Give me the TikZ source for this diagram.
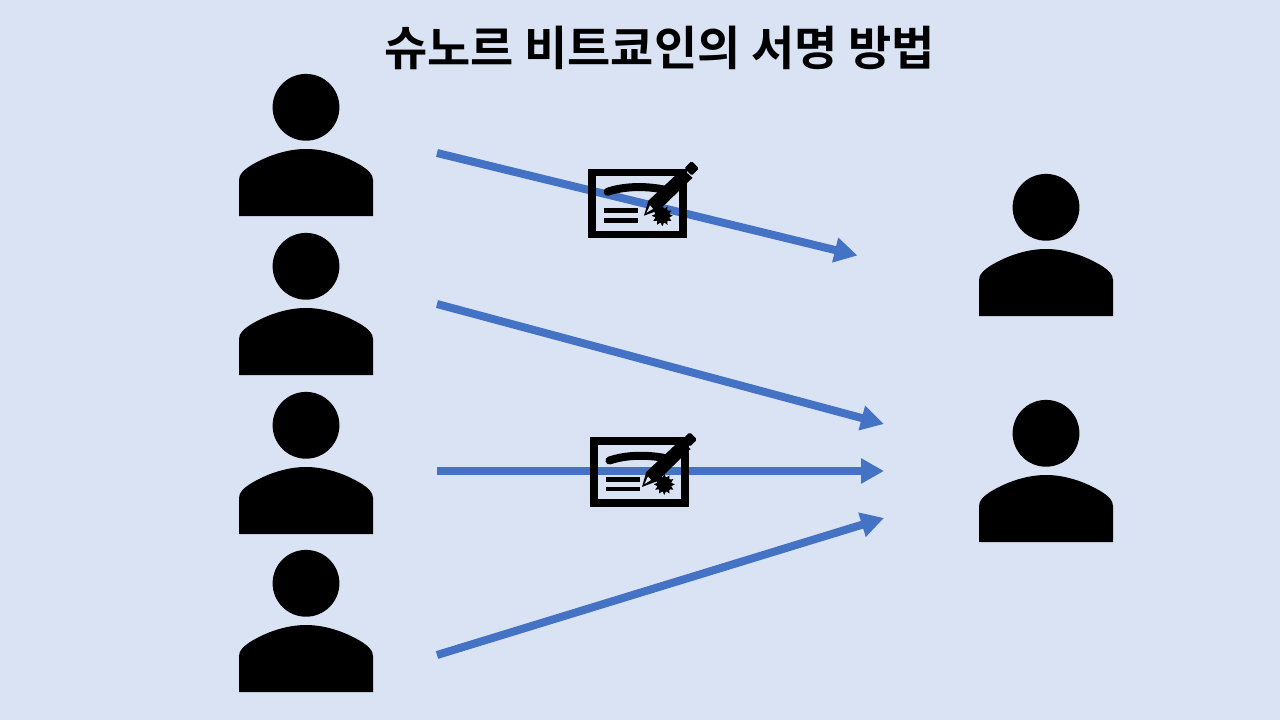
\documentclass[tikz,border=0pt]{standalone}
\usepackage{fontspec}
\usetikzlibrary{arrows.meta}
\newfontfamily\cjk{Noto Sans CJK KR}[BoldFont={Noto Sans CJK KR Bold}]
\definecolor{slide}{RGB}{218, 227, 243}
\definecolor{arrowblue}{RGB}{68, 114, 196}

\tikzset{
  flow/.style = {arrowblue, line width=8pt, -{Triangle[length=23pt,width=24pt]}},
  penpos/.style = {},
  person/.pic = {
    \fill (0,-37.7) circle (33.4pt);
    \fill (-67,71) -- (-67,35) .. controls (-67,29) and (-62,25) .. (-56,21)
      .. controls (-38,10) and (-18,4) .. (0,4)
      .. controls (18,4) and (38,10) .. (56,21)
      .. controls (62,25) and (67,29) .. (67,35) -- (67,71) -- cycle;
  },
  signature/.pic = {
    % frame
    \draw[line width=7.5pt] (-45.5,-31) rectangle (45.5,31);
    % stroke of the signature
    \draw[line width=8pt, line cap=round] (-30,-11.5) .. controls (-14,-17) and (8,-18) .. (30,-13);
    \draw[line width=5pt] (-34,7.5) -- (0,7.5);
    \draw[line width=4.5pt] (-34,17) -- (0,17);
    % seal
    \foreach \a in {0,30,...,330}{
      \fill (24.8,12.4) +(\a:10.5) -- +(\a+15:7) -- +(\a-15:7) -- cycle;
    }
    \fill (24.8,12.4) circle (7.5pt);
    % pen
    \begin{scope}[penpos]
      \fill (6.5,12.4) -- (10.8,-2.6) -- (45,-34.5) -- (55,-25.5) -- (21.8,6.7) -- cycle;
      \fill[slide] (9,9.5) -- (12.5,2) -- (15.5,5.5) -- cycle;
      \fill[rounded corners=1.5pt] (46.8,-35) -- (54.2,-42.3) -- (61.5,-35) -- (54.2,-27.7) -- cycle;
    \end{scope}
  },
}

\begin{document}
\begin{tikzpicture}[x=1pt,y=-1pt]
  \fill[slide] (0,0) rectangle (1280,720);
  \useasboundingbox (0,0) rectangle (1280,720);

  \node[font=\cjk\bfseries\fontsize{47}{56}\selectfont, inner sep=0pt] (title) at (659.5,48) {슈노르 비트쿄인의 서명 방법};

  % senders
  \foreach \y in {145, 304, 463, 621}{
    \pic at (306,\y) {person};
  }
  % receivers
  \foreach \y in {245, 471}{
    \pic at (1046,\y) {person};
  }

  \coordinate (from1) at (437,153);
  \coordinate (from2) at (437,304);
  \coordinate (from3) at (437,471);
  \coordinate (from4) at (437,655);
  \coordinate (to1) at (857.5,255.5);
  \coordinate (to2) at (884,424);
  \coordinate (to3) at (884,471);
  \coordinate (to4) at (884,518);

  \foreach \i in {1,...,4}{
    \draw[flow] (from\i) -- (to\i);
  }

  \pic at (637.5,203.3) {signature};
  \pic[penpos/.style={shift={(-4,2.5)}}] at (639.5,472) {signature};
\end{tikzpicture}
\end{document}
